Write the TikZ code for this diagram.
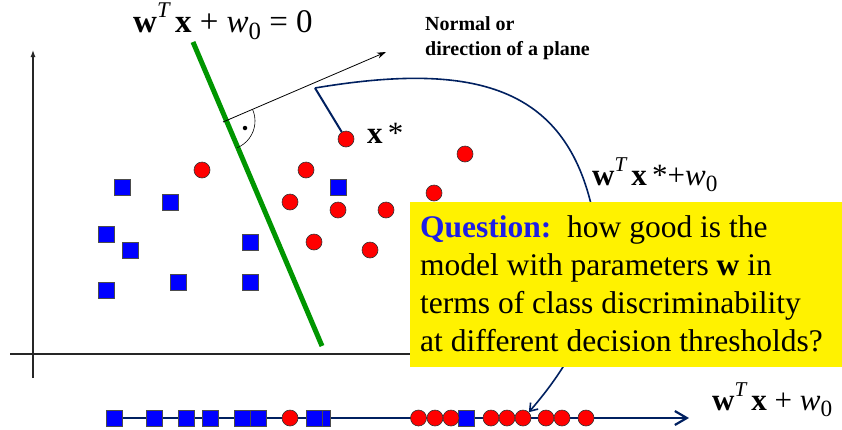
\documentclass[tikz,border=0pt]{standalone}
\usepackage{fontspec}
\usepackage{graphicx}
\setmainfont{Liberation Serif}
\usetikzlibrary{arrows.meta}
\definecolor{navy}{RGB}{0,32,96}
\definecolor{ptblue}{RGB}{0,0,255}
\definecolor{ptred}{RGB}{255,0,0}
\definecolor{qblue}{RGB}{30,30,230}
\definecolor{gline}{RGB}{0,150,0}
\newcommand\mysupT{\raisebox{0.45em}{\scalebox{0.68}{\itshape T}}}
\newcommand\mysubz{\raisebox{-0.22em}{\scalebox{0.75}{0}}}
\newcommand\myvw{{\bfseries w}}
\newcommand\myvx{{\bfseries x}}
\begin{document}
\begin{tikzpicture}[x=1pt,y=-1pt,
  sq/.style={draw=black!70, fill=ptblue, minimum size=16pt, inner sep=0pt, line width=0.6pt},
  dot/.style={circle, draw=black!80, fill=ptred, minimum size=16pt, inner sep=0pt, line width=0.6pt},
  axis/.style={draw=black!85, line width=1.2pt},
  lbl/.style={inner sep=0pt, font=\fontsize{31}{37}\selectfont},
  navyline/.style={draw=navy, line width=2.2pt}]
\useasboundingbox[fill=white] (0,0) rectangle (842,429);
% axes
\coordinate (yb) at (33,378); \coordinate (yt) at (33,50);
\draw[axis,-{Latex[length=7pt,width=5pt]}] (yb) -- (yt);
\coordinate (xl) at (10,354); \coordinate (xr) at (520,354);
\draw[axis] (xl) -- (xr);
% separating line
\coordinate (ga) at (193,42); \coordinate (gb) at (322,346);
\draw[gline, line width=5pt] (ga) -- (gb);
% normal
\coordinate (n0) at (223,122); \coordinate (n1) at (386,52);
\draw[line width=0.8pt,-{Stealth[length=9pt,width=6pt]}] (n0) -- (n1);
\coordinate (rc) at (226,121);
\draw[line width=0.6pt] ([shift={(-23.5:29)}]rc) arc[start angle=-23.5,end angle=67,radius=29];
\node[circle, fill=black, inner sep=0pt, minimum size=4.5pt] (rdot) at (245,128) {};
% points
\foreach \n/\x/\y in {s1/122/187, s2/170/202, s3/106/234, s4/130/250, s5/106/290, s6/178/282, s7/250/242, s8/250/282, s9/338/187}
  \node[sq] (\n) at (\x,\y) {};
\foreach \n/\x/\y in {xs/346/139, c1/202/170, c2/306/170, c3/465/154, c4/434/193, c5/290/202, c6/338/210, c7/386/210, c8/314/242, c9/370/250}
  \node[dot] (\n) at (\x,\y) {};
% projection axis
\coordinate (ls) at (107,418); \coordinate (le) at (689,418);
\draw[navyline, -{Straight Barb[length=12pt,width=14pt]}] (ls) -- (le);
\foreach \n/\x in {b1/114.5, b2/154.5, b3/186, b4/210, b5/242, b6/258, b8/322, b7/314, bs/466}
  \node[sq] (\n) at (\x,418) {};
\foreach \n/\x in {bc1/290, bc2/418.5, bc3/435, bc4/451, bc5/491, bc6/507, bc7/523, bc8/546, bc9/562, bc10/586}
  \node[dot] (\n) at (\x,418) {};
% projection curve
\coordinate (cn) at (315,88);
\draw[navyline, line width=2pt] (xs) -- (cn);
\draw[navyline, line width=1.6pt, -{Straight Barb[length=7pt,width=10pt]}] (cn) .. controls (470,62) and (560,85) .. (590,200) .. controls (607,265) and (600,330) .. (bc7.north east);
% labels
\node[inner sep=0pt, font=\fontsize{33}{39}\selectfont, anchor=base west] (f1) at (133,32) {\myvw\mysupT\,\myvx\ + \textit{w}\mysubz\ = 0};
\node[inner sep=0pt, anchor=north west, align=left, font=\fontsize{20}{25}\selectfont\bfseries] (nrm) at (425,16) {Normal or\\direction of a plane};
\node[lbl, anchor=base west] (xl1) at (367,143) {\myvx\,*};
\node[lbl, anchor=base west] (f3) at (592,185) {\myvw\mysupT\,\myvx\,*+\textit{w}\mysubz};
\node[lbl, anchor=base west] (f2) at (712,410) {\myvw\mysupT\,\myvx\ + \textit{w}\mysubz};
% question box
\node[fill=yellow, inner sep=0pt, minimum width=432pt, minimum height=165pt, anchor=north west] (qbox) at (410,202) {};
\node[anchor=north west, inner sep=0pt, align=left, font=\fontsize{31.5}{38}\selectfont] (qtext) at (420,215)
  {{\bfseries\color{qblue}Question:}\ \ how good is the\\model with parameters {\bfseries w} in\\terms of class discriminability\\at different decision thresholds?};
\end{tikzpicture}
\end{document}
